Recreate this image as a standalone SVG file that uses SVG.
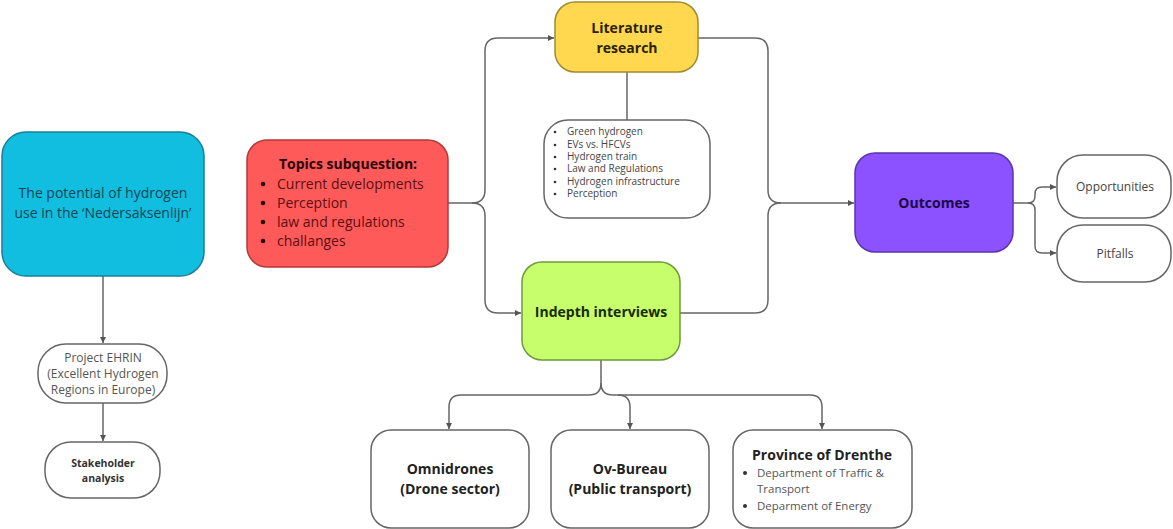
<svg xmlns="http://www.w3.org/2000/svg" width="1173" height="529" viewBox="0 0 1173 529">
<defs>
<marker id="arr" markerWidth="8" markerHeight="8" refX="6" refY="4" orient="auto" markerUnits="userSpaceOnUse">
<path d="M0,1 L6,4 L0,7 Z" fill="#555"/>
</marker>
<style>
.t{font-family:"Open Sans","Liberation Sans",sans-serif;}
.b{font-weight:bold;}
.c{stroke:#666;stroke-width:1.5;fill:none;}
.w{fill:#fff;stroke:#666;stroke-width:1.5;}
</style>
</defs>
<rect width="1173" height="529" fill="#fff"/>
<g id="connectors" class="c">
<path d="M448,203 H472 Q485,203 485,190 V51 Q485,38 498,38 H554" marker-end="url(#arr)"/>
<path d="M472,203 Q485,203 485,216 V300 Q485,313 498,313 H521" marker-end="url(#arr)"/>
<path d="M698,38 H755 Q768,38 768,51 V190 Q768,203 781,203 H854" marker-end="url(#arr)"/>
<path d="M680,313 H755 Q768,313 768,300 V216 Q768,203 781,203"/>
<path d="M627,72 V120"/>
<path d="M1013,203 H1028 Q1035,203 1035,196 V194 Q1035,187 1042,187 H1056" marker-end="url(#arr)"/>
<path d="M1028,203 Q1035,203 1035,210 V246 Q1035,253 1042,253 H1056" marker-end="url(#arr)"/>
<path d="M103,276 V343" marker-end="url(#arr)"/>
<path d="M103,403 V441" marker-end="url(#arr)"/>
<path d="M601,360 V383 Q601,395 589,395 H461 Q449,395 449,407 V429" marker-end="url(#arr)"/>
<path d="M601,383 Q601,395 613,395 H618 Q630,395 630,407 V429" marker-end="url(#arr)"/>
<path d="M618,395 H810 Q822,395 822,407 V429" marker-end="url(#arr)"/>
</g>
<g id="main">
<rect x="2" y="132" width="202" height="144" rx="24" fill="#12BEDF" stroke="#1A7F96" stroke-width="1.5"/>
<text class="t" font-size="14" fill="#0E4654" text-anchor="middle"><tspan x="103" y="198">The potential of hydrogen</tspan><tspan x="103" y="218">use in the ‘Nedersaksenlijn’</tspan></text>
</g>
<g id="topics">
<rect x="247" y="140" width="201" height="127" rx="20" fill="#FF5A5A" stroke="#B23A3A" stroke-width="1.5"/>
<text class="t b" font-size="14" fill="#2A0505" x="348" y="169" text-anchor="middle">Topics subquestion:</text>
<g class="t" font-size="14" fill="#5A0F0F">
<circle cx="263" cy="184" r="2.3" fill="#2A0505"/><text x="277" y="189">Current developments</text>
<circle cx="263" cy="203" r="2.3" fill="#2A0505"/><text x="277" y="208">Perception</text>
<circle cx="263" cy="222" r="2.3" fill="#2A0505"/><text x="277" y="227">law and regulations</text>
<circle cx="263" cy="241" r="2.3" fill="#2A0505"/><text x="277" y="246">challanges</text>
</g>
</g>
<g id="literature">
<rect x="555" y="2" width="143" height="70" rx="20" fill="#FFD84F" stroke="#A08A30" stroke-width="1.5"/>
<text class="t b" font-size="14" fill="#2A2205" text-anchor="middle"><tspan x="627" y="33">Literature</tspan><tspan x="627" y="53">research</tspan></text>
</g>
<g id="litlist">
<rect x="544" y="120" width="166" height="98" rx="24" class="w"/>
<g class="t" font-size="10" fill="#444">
<circle cx="555" cy="132" r="1.3" fill="#333"/><text x="567" y="135">Green hydrogen</text>
<circle cx="555" cy="145" r="1.3" fill="#333"/><text x="567" y="148">EVs vs. HFCVs</text>
<circle cx="555" cy="157" r="1.3" fill="#333"/><text x="567" y="160">Hydrogen train</text>
<circle cx="555" cy="169" r="1.3" fill="#333"/><text x="567" y="172">Law and Regulations</text>
<circle cx="555" cy="182" r="1.3" fill="#333"/><text x="567" y="185">Hydrogen infrastructure</text>
<circle cx="555" cy="194" r="1.3" fill="#333"/><text x="567" y="197">Perception</text>
</g>
</g>
<g id="indepth">
<rect x="522" y="262" width="158" height="98" rx="20" fill="#C6FF6B" stroke="#6E9A3A" stroke-width="1.5"/>
<text class="t b" font-size="14" fill="#1A2A05" x="601" y="317" text-anchor="middle">Indepth interviews</text>
</g>
<g id="outcomes">
<rect x="855" y="153" width="158" height="99" rx="20" fill="#8C52FF" stroke="#5A35A8" stroke-width="1.5"/>
<text class="t b" font-size="14" fill="#1A0A45" x="934" y="208" text-anchor="middle">Outcomes</text>
</g>
<g id="opportunities">
<rect x="1057" y="155" width="114" height="63" rx="26" class="w"/>
<text class="t" font-size="12" fill="#444" x="1115" y="191" text-anchor="middle">Opportunities</text>
</g>
<g id="pitfalls">
<rect x="1057" y="225" width="114" height="57" rx="26" class="w"/>
<text class="t" font-size="12" fill="#444" x="1115" y="258" text-anchor="middle">Pitfalls</text>
</g>
<g id="ehrin">
<rect x="38" y="344" width="129" height="59" rx="28" class="w"/>
<text class="t" font-size="12" fill="#555" text-anchor="middle"><tspan x="103" y="362">Project EHRIN</tspan><tspan x="103" y="378">(Excellent Hydrogen</tspan><tspan x="103" y="394">Regions in Europe)</tspan></text>
</g>
<g id="stakeholder">
<rect x="45" y="442" width="115" height="56" rx="26" class="w"/>
<text class="t b" font-size="10.5" fill="#333" text-anchor="middle"><tspan x="103" y="467">Stakeholder</tspan><tspan x="103" y="482">analysis</tspan></text>
</g>
<g id="omnidrones">
<rect x="371" y="430" width="158" height="98" rx="20" class="w"/>
<text class="t b" font-size="14" fill="#222" text-anchor="middle"><tspan x="450" y="474">Omnidrones</tspan><tspan x="450" y="494">(Drone sector)</tspan></text>
</g>
<g id="ovbureau">
<rect x="551" y="430" width="158" height="98" rx="20" class="w"/>
<text class="t b" font-size="14" fill="#222" text-anchor="middle"><tspan x="630" y="474">Ov-Bureau</tspan><tspan x="630" y="494">(Public transport)</tspan></text>
</g>
<g id="province">
<rect x="733" y="430" width="179" height="98" rx="20" class="w"/>
<text class="t b" font-size="14" fill="#222" x="822" y="460" text-anchor="middle">Province of Drenthe</text>
<g class="t" font-size="11.5" fill="#555">
<circle cx="745" cy="473" r="2" fill="#333"/><text x="757" y="477">Department of Traffic &amp;</text>
<text x="757" y="493">Transport</text>
<circle cx="745" cy="506" r="2" fill="#333"/><text x="757" y="510">Deparment of Energy</text>
</g>
</g>
</svg>
